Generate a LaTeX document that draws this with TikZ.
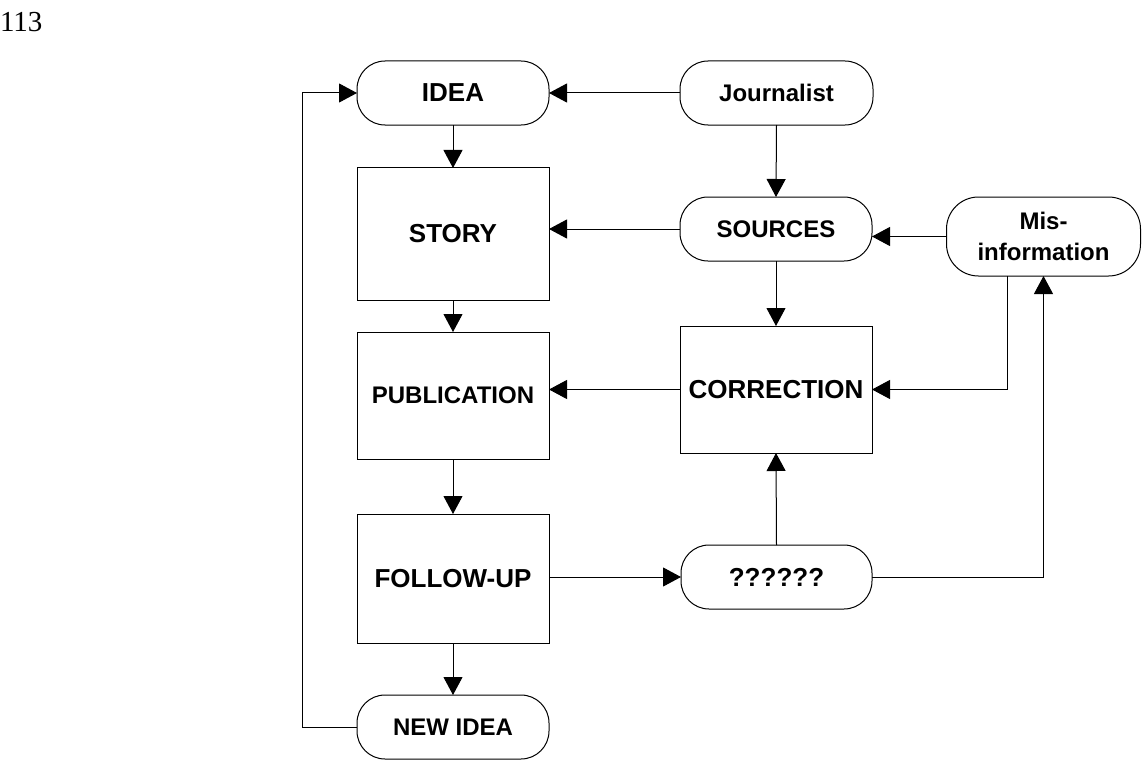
\documentclass[tikz,border=0pt]{standalone}
\usepackage{fontspec}
\setmainfont{Liberation Sans}
\newfontfamily\pgnumfont{Liberation Serif}
\usetikzlibrary{arrows.meta}
\begin{document}
\begin{tikzpicture}[x=1bp,y=-1bp,
  every node/.style={inner sep=0pt,outer sep=0pt,align=center,font=\bfseries\fontsize{26bp}{31bp}\selectfont},
  pill/.style={draw,line width=1bp,rounded corners=28bp,minimum width=192bp,minimum height=64bp},
  boxnode/.style={draw,line width=1bp,minimum width=192bp},
  small/.style={font=\bfseries\fontsize{24bp}{31bp}\selectfont},
  conn/.style={line width=1bp,-{Triangle[length=18bp,width=19bp]}}
]
\useasboundingbox (0,0) rectangle (1142,760);
\node[anchor=base west,font=\pgnumfont\fontsize{29bp}{34bp}\selectfont] (pg) at (0,32) {113};

\node[pill] (idea) at (453,93) {IDEA};
\node[pill,small,minimum width=193bp] (jour) at (776.5,93) {Journalist};
\node[boxnode,minimum height=132bp] (story) at (453,234) {STORY};
\node[pill,small] (src) at (776,229) {SOURCES};
\node[pill,small,minimum width=194bp,minimum height=79bp,rounded corners=32bp] (mis) at (1043.5,236.5) {Mis-\\information};
\node[boxnode,small,minimum height=127bp] (pub) at (453,395.5) {PUBLICATION};
\node[boxnode,minimum height=127bp] (corr) at (776,389.5) {CORRECTION};
\node[boxnode,minimum height=129bp] (fol) at (453,578.5) {FOLLOW-UP};
\node[pill,minimum width=191bp] (qq) at (776.5,577) {??????};
\node[pill,small] (newidea) at (453,727) {NEW IDEA};

\coordinate (loop) at (302,727);
\coordinate (misdown) at (1007,276);

\draw[conn] (jour.west) -- (idea.east);
\draw[conn] (idea.south) -- (story.north);
\draw[conn] (jour.south) -- (src.north);
\draw[conn] (src.west) -- (src.west -| story.east);
\draw[conn] (mis.west) -- (mis.west -| src.east);
\draw[conn] (story.south) -- (pub.north);
\draw[conn] (src.south) -- (corr.north);
\draw[conn] (corr.west) -- (corr.west -| pub.east);
\draw[conn] (misdown) |- (corr.east);
\draw[conn] (pub.south) -- (fol.north);
\draw[conn] (qq.north) -- (corr.south);
\draw[conn] (fol.east |- qq.west) -- (qq.west);
\draw[conn] (qq.east) -| (mis.south);
\draw[conn] (fol.south) -- (newidea.north);
\draw[conn] (newidea.west) -- (loop) |- (idea.west);
\end{tikzpicture}
\end{document}
